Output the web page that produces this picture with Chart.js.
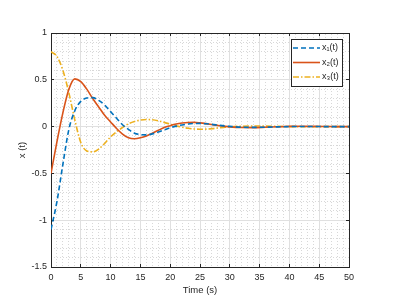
<!DOCTYPE html>
<html>
<head>
<meta charset="utf-8">
<script src="https://cdn.jsdelivr.net/npm/chart.js@4.4.1/dist/chart.umd.min.js"></script>
<style>
  html, body { margin: 0; padding: 0; background: #fff; }
</style>
</head>
<body>
<canvas id="myChart" width="394" height="299"></canvas>
<script>
// sample times (s) and the three state responses
const time = [0, 1, 2, 3, 4, 5, 6, 7, 8, 9, 10, 11, 12, 13, 14, 15, 16, 17, 18, 19, 20,
  21, 22, 23, 24, 25, 26, 27, 28, 29, 30, 32, 34, 36, 38, 40, 42, 44, 46, 48, 50];

const x1 = [-1.1, -0.8, -0.4, -0.03, 0.17, 0.27, 0.305, 0.31, 0.28, 0.23, 0.16,
  0.09, 0.02, -0.03, -0.07, -0.085, -0.088, -0.078, -0.058, -0.035, -0.012,
  0.005, 0.018, 0.028, 0.033, 0.034, 0.03, 0.024, 0.016, 0.008, 0.002,
  -0.006, -0.008, -0.006, -0.003, 0, 0.001, 0.001, 0, 0, 0];

const x2 = [-0.5, -0.16, 0.15, 0.4, 0.51, 0.48, 0.4, 0.3, 0.21, 0.12, 0.05,
  -0.02, -0.08, -0.12, -0.13, -0.12, -0.1, -0.07, -0.04, -0.01, 0.01,
  0.027, 0.038, 0.044, 0.045, 0.04, 0.032, 0.022, 0.012, 0.004, -0.003,
  -0.01, -0.011, -0.007, -0.002, 0.002, 0.003, 0.002, 0.001, 0, 0];

const x3 = [0.8, 0.75, 0.6, 0.36, 0.07, -0.17, -0.26, -0.27, -0.24, -0.18, -0.11,
  -0.055, -0.01, 0.03, 0.055, 0.07, 0.076, 0.073, 0.062, 0.045, 0.026,
  0.008, -0.007, -0.018, -0.025, -0.028, -0.027, -0.022, -0.015, -0.008, -0.002,
  0.004, 0.006, 0.005, 0.002, 0, -0.001, -0.001, 0, 0, 0];

const seriesNames = ['x\u2081(t)', 'x\u2082(t)', 'x\u2083(t)'];

const axisColor = '#262626';
const FONT = '"Liberation Sans", Arial, sans-serif';

function pts(values) {
  return time.map((t, i) => ({x: t, y: values[i]}));
}

function isMajor(v, step) {
  const r = v / step;
  return Math.abs(r - Math.round(r)) < 1e-6;
}

// MATLAB-like legend box inside the top right of the axes
const boxLegend = {
  id: 'boxLegend',
  afterDraw(chart) {
    const ctx = chart.ctx;
    const area = chart.chartArea;
    const w = 51, h = 47;
    const left = Math.round(area.right - 7 - w);
    const top = Math.round(area.top + 6);
    ctx.save();
    ctx.fillStyle = '#fff';
    ctx.fillRect(left, top, w, h);
    ctx.strokeStyle = axisColor;
    ctx.lineWidth = 1;
    ctx.strokeRect(left + 0.5, top + 0.5, w, h);
    chart.data.datasets.forEach((ds, i) => {
      const y = top + 9 + i * 14.5;
      ctx.beginPath();
      ctx.setLineDash(ds.borderDash || []);
      ctx.strokeStyle = ds.borderColor;
      ctx.lineWidth = ds.borderWidth;
      ctx.moveTo(left + 2, y);
      ctx.lineTo(left + 29, y);
      ctx.stroke();
      ctx.setLineDash([]);
      ctx.fillStyle = axisColor;
      ctx.font = '9px ' + FONT;
      ctx.textBaseline = 'middle';
      ctx.fillText(ds.label, left + 31, y);
    });
    ctx.restore();
  }
};

const data = {
  datasets: [
    {label: seriesNames[0], data: pts(x1), borderColor: '#0072BD', borderWidth: 1.6, borderDash: [5, 3]},
    {label: seriesNames[1], data: pts(x2), borderColor: '#D95319', borderWidth: 1.6},
    {label: seriesNames[2], data: pts(x3), borderColor: '#EDB120', borderWidth: 1.6, borderDash: [6, 2, 1.5, 2]}
  ]
};

const minorGrid = (step) => ({
  color: (c) => isMajor(c.tick.value, step) ? 'rgba(0,0,0,0)' : '#d8d8d8',
  lineWidth: 1,
  tickLength: -3,
  tickColor: (c) => isMajor(c.tick.value, step) ? axisColor : 'rgba(0,0,0,0)'
});

const config = {
  type: 'line',
  data,
  options: {
    responsive: false,
    animation: false,
    elements: {point: {radius: 0}, line: {cubicInterpolationMode: 'monotone'}},
    layout: {padding: {left: 0, right: 45, top: 33, bottom: 0}},
    plugins: {legend: {display: false}, tooltip: {enabled: false}},
    scales: {
      x: {
        type: 'linear', position: 'bottom', min: 0, max: 50,
        ticks: {stepSize: 5, autoSkip: false, maxRotation: 0, padding: 8, color: axisColor, font: {family: FONT, size: 9}},
        grid: {color: '#e0e0e0', lineWidth: 1, tickLength: -3, tickColor: axisColor},
        border: {color: axisColor, width: 1},
        title: {display: true, text: 'Time (s)', color: axisColor, font: {family: FONT, size: 9.5}, padding: {top: 0, bottom: 3}},
        afterFit: (s) => { s.height = 32; }
      },
      xMinor: {
        type: 'linear', position: 'top', min: 0, max: 50,
        ticks: {stepSize: 1, display: false},
        grid: minorGrid(5),
        border: {color: axisColor, width: 1, dash: [1, 2]},
        afterFit: (s) => { s.height = 0; }
      },
      y: {
        position: 'left', min: -1.5, max: 1,
        ticks: {stepSize: 0.5, padding: 7, color: axisColor, font: {family: FONT, size: 9}, callback: (v) => String(v)},
        grid: {color: '#e0e0e0', lineWidth: 1, tickLength: -3, tickColor: axisColor},
        border: {color: axisColor, width: 1},
        title: {display: true, text: 'x (t)', color: axisColor, font: {family: FONT, size: 9.5}, padding: {top: 17, bottom: 0}},
        afterFit: (s) => { s.width = 51; }
      },
      yMinor: {
        position: 'right', min: -1.5, max: 1,
        ticks: {stepSize: 0.1, display: false},
        grid: minorGrid(0.5),
        border: {color: axisColor, width: 1, dash: [1, 2]},
        afterFit: (s) => { s.width = 0; }
      }
    }
  },
  plugins: [boxLegend]
};

var myChart = new Chart(document.getElementById('myChart'), config);
</script>
</body>
</html>
